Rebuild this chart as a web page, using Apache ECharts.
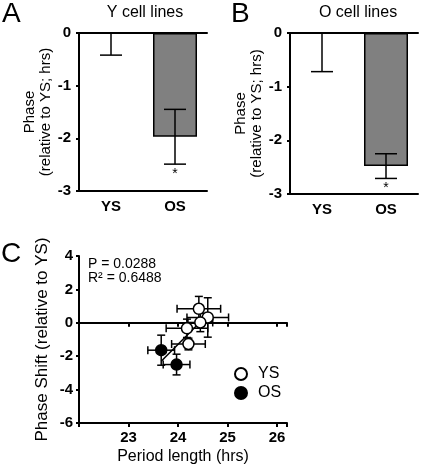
<!DOCTYPE html>
<html><head><meta charset="utf-8">
<script src="https://cdn.jsdelivr.net/npm/echarts@6/dist/echarts.min.js"></script>
<style>html,body{margin:0;padding:0;background:#fff}#c{width:422px;height:467px}</style>
</head><body><div id="c"></div>
<script>
// ---- Data ----
const barCats = ['YS', 'OS'];
const yMeans = [0, -1.97];      // Panel A: Y cell lines
const yErrs = [0.42, 0.52];
const oMeans = [0, -2.48];      // Panel B: O cell lines
const oErrs = [0.72, 0.23];
const sigMarks = ['', '*'];
const barTicks = [0, -1, -2, -3];

// Panel C: period, phase shift, and their SEs
const ysPeriod = [24.42, 24.60, 24.45, 24.18, 24.21];
const ysPhase  = [0.84, 0.32, 0.02, -0.33, -1.27];
const ysPerErr = [0.44, 0.42, 0.25, 0.42, 0.34];
const ysPhErr  = [0.74, 1.18, 0.55, 0.55, 0.35];
const osPeriod = [23.66, 23.97];
const osPhase  = [-1.64, -2.50];
const osPerErr = [0.27, 0.27];
const osPhErr  = [0.90, 0.62];
const xTicks = [23, 24, 25, 26];
const yTicksC = [4, 2, 0, -2, -4, -6];
const statsText = ['P = 0.0288', 'R\u00b2 = 0.6488'];

// ---- helpers ----
const FONT = 'Liberation Sans, Arial, sans-serif';
const allX = ysPeriod.concat(osPeriod), allY = ysPhase.concat(osPhase);
const n = allX.length;
const mx = allX.reduce((a, b) => a + b, 0) / n, my = allY.reduce((a, b) => a + b, 0) / n;
let sxy = 0, sxx = 0;
for (let i = 0; i < n; i++) { sxy += (allX[i] - mx) * (allY[i] - my); sxx += (allX[i] - mx) ** 2; }
const slope = sxy / sxx, icpt = my - slope * mx;
const xLo = Math.min(...allX), xHi = Math.max(...allX);
const regLine = [[xLo, icpt + slope * xLo], [xHi, icpt + slope * xHi]];

function barErrRender(params, api) {
  const idx = api.value(0), m = api.value(1), e = api.value(2);
  const top = api.coord([idx, m + e]), bot = api.coord([idx, m - e]);
  const w = 11, style = { stroke: '#000', lineWidth: 1.5 };
  const children = [
    { type: 'line', shape: { x1: top[0], y1: top[1], x2: bot[0], y2: bot[1] }, style },
    { type: 'line', shape: { x1: top[0] - w, y1: top[1], x2: top[0] + w, y2: top[1] }, style },
    { type: 'line', shape: { x1: bot[0] - w, y1: bot[1], x2: bot[0] + w, y2: bot[1] }, style }
  ];
  const s = sigMarks[params.dataIndex];
  if (s) children.push({ type: 'text', style: { text: s, x: bot[0], y: bot[1] + 10, align: 'center', verticalAlign: 'middle', font: '14px ' + FONT, fill: '#000' } });
  return { type: 'group', children };
}
function xyErrRender(params, api) {
  const x = api.value(0), y = api.value(1), ex = api.value(2), ey = api.value(3);
  const L = api.coord([x - ex, y]), R = api.coord([x + ex, y]);
  const T = api.coord([x, y + ey]), B = api.coord([x, y - ey]);
  const c = 4, style = { stroke: '#000', lineWidth: 1.5 };
  return { type: 'group', children: [
    { type: 'line', shape: { x1: L[0], y1: L[1], x2: R[0], y2: R[1] }, style },
    { type: 'line', shape: { x1: L[0], y1: L[1] - c, x2: L[0], y2: L[1] + c }, style },
    { type: 'line', shape: { x1: R[0], y1: R[1] - c, x2: R[0], y2: R[1] + c }, style },
    { type: 'line', shape: { x1: T[0], y1: T[1], x2: B[0], y2: B[1] }, style },
    { type: 'line', shape: { x1: T[0] - c, y1: T[1], x2: T[0] + c, y2: T[1] }, style },
    { type: 'line', shape: { x1: B[0] - c, y1: B[1], x2: B[0] + c, y2: B[1] }, style }
  ]};
}

const axisLineStyle = { show: true, onZero: false, lineStyle: { color: '#000', width: 2 } };
function catAxes(gi) {
  return [
    { type: 'category', gridIndex: gi, data: barCats, position: 'bottom',
      axisLine: axisLineStyle, axisTick: { show: false },
      axisLabel: { color: '#000', fontWeight: 'bold', fontSize: 15, fontFamily: FONT, margin: 8 } },
    { type: 'category', gridIndex: gi, data: barCats, position: 'top',
      axisLine: axisLineStyle, axisTick: { show: false }, axisLabel: { show: false } }
  ];
}
function barYAxis(gi) {
  return { type: 'value', gridIndex: gi, min: barTicks[barTicks.length - 1], max: barTicks[0], interval: 1,
    axisLine: axisLineStyle, axisTick: { show: true, length: 3, lineStyle: { color: '#000', width: 2 } },
    splitLine: { show: false },
    axisLabel: { color: '#000', fontWeight: 'bold', fontSize: 15, fontFamily: FONT, margin: 8 },
    name: 'Phase\n(relative to YS; hrs)', nameLocation: 'middle', nameGap: 24, nameRotate: 90,
    nameTextStyle: { color: '#000', fontSize: 15, fontFamily: FONT, lineHeight: 16 } };
}
function barSeries(gi, means, errs) {
  return [
    { type: 'bar', xAxisIndex: gi * 2, yAxisIndex: gi, barWidth: 44,
      data: means.map((v, i) => ({ value: v, itemStyle: i === 0 ? { color: '#fff', borderWidth: 0 } : { color: '#808080', borderColor: '#000', borderWidth: 1.5 } })) },
    { type: 'custom', xAxisIndex: gi * 2, yAxisIndex: gi, clip: true, z: 5,
      renderItem: barErrRender, data: means.map((v, i) => [i, v, errs[i]]) }
  ];
}

const chart = echarts.init(document.getElementById('c'), null, { renderer: 'canvas' });
chart.setOption({
  animation: false,
  backgroundColor: '#fff',
  textStyle: { fontFamily: FONT },
  grid: [
    { left: 79, top: 33, width: 128, height: 158 },
    { left: 290, top: 33, width: 128, height: 161 },
    { left: 79, top: 256, width: 208, height: 167 }
  ],
  xAxis: catAxes(0).concat(catAxes(1)).concat([
    { type: 'value', gridIndex: 2, min: 22, max: 26.2, interval: 1, position: 'bottom',
      axisLine: axisLineStyle, splitLine: { show: false },
      axisTick: { show: true, length: 4, lineStyle: { color: '#000', width: 2 } },
      axisLabel: { color: '#000', fontWeight: 'bold', fontSize: 15, fontFamily: FONT, margin: 7,
        formatter: v => xTicks.includes(v) ? String(v) : '' },
      name: 'Period length (hrs)', nameLocation: 'middle', nameGap: 26,
      nameTextStyle: { color: '#000', fontSize: 16, fontFamily: FONT } },
    { type: 'value', gridIndex: 2, min: 22, max: 26.2, interval: 1, position: 'bottom',
      axisLine: { show: true, onZero: true, lineStyle: { color: '#000', width: 2 } },
      splitLine: { show: false },
      axisTick: { show: true, length: 4, lineStyle: { color: '#000', width: 2 } },
      axisLabel: { show: false } }
  ]),
  yAxis: [
    barYAxis(0), barYAxis(1),
    { type: 'value', gridIndex: 2, min: yTicksC[yTicksC.length - 1], max: yTicksC[0], interval: 2,
      axisLine: axisLineStyle, splitLine: { show: false },
      axisTick: { show: true, length: 3, lineStyle: { color: '#000', width: 2 } },
      axisLabel: { color: '#000', fontWeight: 'bold', fontSize: 15, fontFamily: FONT, margin: 6 },
      name: 'Phase Shift (relative to YS)', nameLocation: 'middle', nameGap: 28, nameRotate: 90,
      nameTextStyle: { color: '#000', fontSize: 17, fontFamily: FONT } }
  ],
  legend: {
    data: ['YS', 'OS'], orient: 'vertical', left: 229, top: 361, itemGap: 3,
    itemWidth: 12, itemHeight: 12, icon: 'circle',
    textStyle: { color: '#000', fontSize: 16, fontFamily: FONT, padding: [0, 0, 0, 6] }
  },
  graphic: [
    { type: 'text', left: 2, top: 0, style: { text: 'A', font: '28px ' + FONT, fill: '#000' } },
    { type: 'text', left: 231, top: 0, style: { text: 'B', font: '28px ' + FONT, fill: '#000' } },
    { type: 'text', left: 1, top: 240, style: { text: 'C', font: '28px ' + FONT, fill: '#000' } },
    { type: 'text', x: 145, y: 13, style: { text: 'Y cell lines', font: '16px ' + FONT, fill: '#000', align: 'center', verticalAlign: 'middle' } },
    { type: 'text', x: 358, y: 13, style: { text: 'O cell lines', font: '16px ' + FONT, fill: '#000', align: 'center', verticalAlign: 'middle' } },
    { type: 'text', x: 88, y: 264, style: { text: statsText[0], font: '14px ' + FONT, fill: '#000', verticalAlign: 'middle' } },
    { type: 'text', x: 88, y: 278, style: { text: statsText[1], font: '14px ' + FONT, fill: '#000', verticalAlign: 'middle' } }
  ],
  series: barSeries(0, yMeans, yErrs).concat(barSeries(1, oMeans, oErrs)).concat([
    { type: 'custom', xAxisIndex: 4, yAxisIndex: 2, z: 2, renderItem: xyErrRender,
      data: ysPeriod.map((v, i) => [v, ysPhase[i], ysPerErr[i], ysPhErr[i]])
        .concat(osPeriod.map((v, i) => [v, osPhase[i], osPerErr[i], osPhErr[i]])) },
    { type: 'line', xAxisIndex: 4, yAxisIndex: 2, z: 3, data: regLine, symbol: 'none',
      lineStyle: { color: '#000', width: 1.5 } },
    { name: 'YS', type: 'scatter', xAxisIndex: 4, yAxisIndex: 2, z: 4, symbolSize: 11,
      itemStyle: { color: '#fff', borderColor: '#000', borderWidth: 1.5, opacity: 1 },
      data: ysPeriod.map((v, i) => [v, ysPhase[i]]) },
    { name: 'OS', type: 'scatter', xAxisIndex: 4, yAxisIndex: 2, z: 4, symbolSize: 11,
      itemStyle: { color: '#000', borderColor: '#000', borderWidth: 1.5, opacity: 1 },
      data: osPeriod.map((v, i) => [v, osPhase[i]]) }
  ])
});
</script></body></html>
